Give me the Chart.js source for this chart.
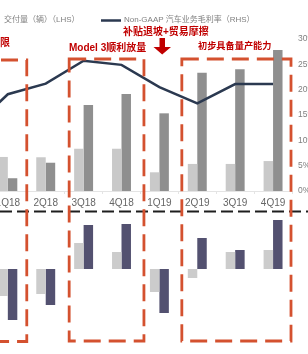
<!DOCTYPE html>
<html>
<head>
<meta charset="utf-8">
<script src="https://cdn.jsdelivr.net/npm/chart.js@4.4.1/dist/chart.umd.min.js"></script>
<style>
  html, body { margin:0; padding:0; width:308px; height:354px; overflow:hidden; background:#fff; position:relative; }
  canvas { position:absolute; }
  .t { position:absolute; white-space:nowrap; line-height:1; font-family:"Liberation Sans","Noto Sans CJK SC",sans-serif; }
  .lg { color:#808080; font-size:8px; }
  .ann { color:#c00000; font-weight:bold; font-family:"Liberation Sans","Noto Sans CJK SC",sans-serif; }
</style>
</head>
<body>
<canvas id="top" width="380" height="212" style="left:-49px;top:0px"></canvas>
<canvas id="bot" width="380" height="142" style="left:-49px;top:212px"></canvas>
<canvas id="ov" width="308" height="354" style="left:0;top:0;pointer-events:none"></canvas>

<div class="t lg" style="left:4px;top:16px">交付量（辆）（LHS）</div>
<div class="t lg" style="left:124px;top:16px">Non-GAAP 汽车业务毛利率（RHS）</div>
<div class="t ann" style="left:0px;top:38px;font-size:10px">限</div>
<div class="t ann" style="left:69px;top:43px;font-size:10px">Model 3顺利放量</div>
<div class="t ann" style="left:123px;top:27px;font-size:10px">补贴退坡+贸易摩擦</div>
<div class="t ann" style="left:198px;top:42px;font-size:9.2px">初步具备量产能力</div>

<script>
// ---- data ----
const quarters = ['4Q17','1Q18','2Q18','3Q18','4Q18','1Q19','2Q19','3Q19','4Q19'];
// top panel: deliveries (LHS, vehicles)
const deliveriesLight = [null, 22400, 22200, 27800, 27800, 12300, 17800, 17800, 19700];
const deliveriesDark  = [null,  8400, 18600, 56600, 63800, 51100, 77800, 80100, 92800];
// Non-GAAP automotive gross margin (RHS, %)
const grossMargin = [12.0, 19.1, 21.2, 25.7, 24.9, 20.5, 17.3, 21.1, 21.1];
const rhsTicks = [0, 5, 10, 15, 20, 25, 30];
// bottom panel: floating changes (LHS of lower panel, units cut off in picture)
const lowerLight = [null, -27, -25, 26, 17, -23, -9, 17, 19];
const lowerDark  = [null, -51, -36, 44, 45, -44, 31, 19, 49];

const FAM = '"Liberation Sans","Noto Sans CJK SC",sans-serif';
const CANVAS_LEFT = -49;

const topChart = new Chart(document.getElementById('top'), {
  data: {
    labels: quarters,
    datasets: [
      { type:'line', data: grossMargin, yAxisID:'y1', borderColor:'#2b3950', borderWidth:2.5,
        pointRadius:0, tension:0, order:0 },
      { type:'bar', data: deliveriesLight, yAxisID:'y', backgroundColor:'#c9c9c9',
        categoryPercentage:0.5, barPercentage:1, order:1 },
      { type:'bar', data: deliveriesDark, yAxisID:'y', backgroundColor:'#8f8f8f',
        categoryPercentage:0.5, barPercentage:1, order:1 }
    ]
  },
  options: {
    responsive:false, animation:false, devicePixelRatio:1,
    layout:{ padding:{ top:39, left:0, right:0, bottom:0 } },
    plugins:{ legend:{display:false}, tooltip:{enabled:false} },
    scales:{
      x:{ offset:true,
          grid:{ display:true, drawOnChartArea:false, drawTicks:true, tickLength:3, color:'#e4e4e4' },
          border:{ display:true, color:'#e4e4e4' },
          ticks:{ color:'#666', font:{ size:10, family:FAM }, padding:3, maxRotation:0, autoSkip:false },
          afterFit: s => { s.height = 21; } },
      y:{ display:false, min:0, max:100000 },
      y1:{ position:'right', min:0, max:30, afterBuildTicks: s => { s.ticks = rhsTicks.map(v => ({value:v})); },
           grid:{ display:false, drawTicks:false }, border:{ display:false },
           ticks:{ callback: v => v + '%', color:'#808080', font:{ size:8.5, family:FAM }, padding:6 },
           afterFit: s => { s.width = 39; } }
    }
  }
});

const botChart = new Chart(document.getElementById('bot'), {
  data: {
    labels: quarters,
    datasets: [
      { type:'bar', data: lowerLight, backgroundColor:'#cccccc', categoryPercentage:0.5, barPercentage:1 },
      { type:'bar', data: lowerDark, backgroundColor:'#535170', categoryPercentage:0.5, barPercentage:1 }
    ]
  },
  options: {
    responsive:false, animation:false, devicePixelRatio:1,
    layout:{ padding:{ top:0, left:0, right:39, bottom:0 } },
    plugins:{ legend:{display:false}, tooltip:{enabled:false} },
    scales:{
      x:{ display:false, offset:true },
      y:{ display:false, min:-85, max:57 }
    }
  }
});

// ---- overlay: separators, highlight boxes, arrow, legend line ----
const ov = document.getElementById('ov').getContext('2d');
const xs = topChart.scales.x;
const half = (xs.right - xs.left) / quarters.length / 2;
const cx = i => CANVAS_LEFT + xs.getPixelForValue(i);

// legend line
ov.strokeStyle = '#2b3950'; ov.lineWidth = 2.5;
ov.beginPath(); ov.moveTo(101, 20.5); ov.lineTo(121, 20.5); ov.stroke();

// black dashed separator
ov.save();
ov.strokeStyle = '#1e1e1e'; ov.lineWidth = 1.8; ov.setLineDash([12, 5]);
ov.beginPath(); ov.moveTo(0, 211.5); ov.lineTo(308, 211.5); ov.stroke();
ov.restore();

// highlight boxes (from category indices)
const boxes = [
  { from:0, to:1, dl:0, dr:0, top:60, bottom:341.5 },
  { from:3, to:4, dl:4.5, dr:3.5, top:59, bottom:341 },
  { from:6, to:8, dl:3.5, dr:-1, top:59, bottom:341 }
];
ov.save();
ov.strokeStyle = '#d4512f'; ov.lineWidth = 2.8; ov.setLineDash([17, 8]);
boxes.forEach(b => {
  const l = cx(b.from) - half + b.dl;
  const r = cx(b.to) + half + b.dr;
  ov.beginPath();
  ov.moveTo(l, b.top); ov.lineTo(r, b.top); ov.lineTo(r, b.bottom); ov.lineTo(l, b.bottom); ov.closePath();
  ov.stroke();
});
ov.restore();

// red down arrow
ov.fillStyle = '#c00000';
ov.beginPath();
ov.moveTo(159.5, 38); ov.lineTo(165, 38); ov.lineTo(165, 47); ov.lineTo(171, 47);
ov.lineTo(162.2, 54.5); ov.lineTo(153.5, 47); ov.lineTo(159.5, 47); ov.closePath();
ov.fill();
</script>
</body>
</html>
